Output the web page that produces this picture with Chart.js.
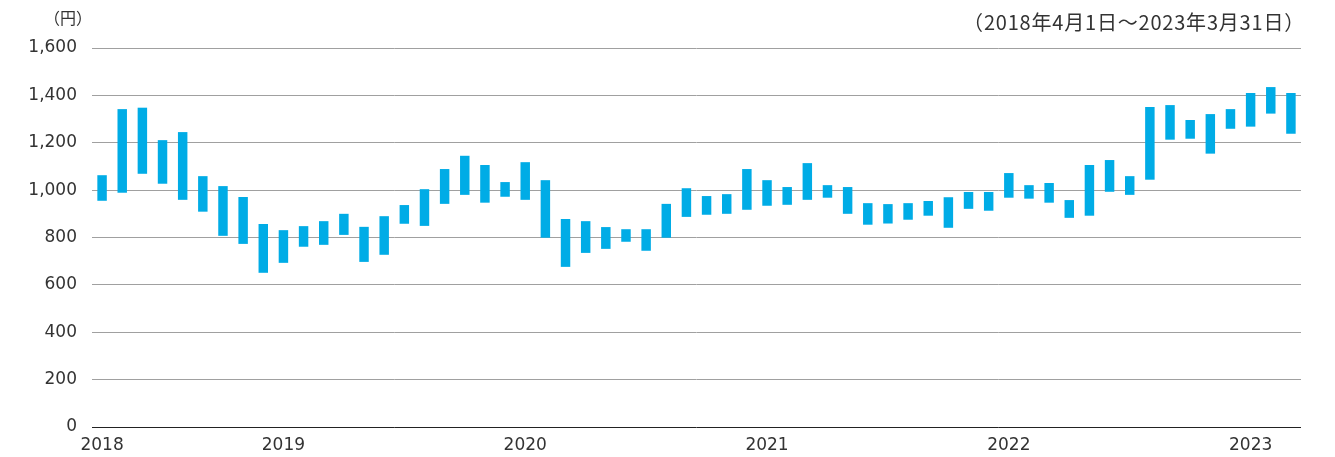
<!DOCTYPE html>
<html lang="ja">
<head>
<meta charset="utf-8">
<script src="https://cdn.jsdelivr.net/npm/chart.js@4"></script>
<style>
  html, body { margin: 0; padding: 0; background: #fff; }
  #wrap { position: relative; width: 1335px; height: 457px; font-family: "Noto Sans CJK JP", "Noto Sans", sans-serif; color: #333; }
  #unit { position: absolute; left: 44px; top: 9px; font-size: 16px; line-height: 1; }
  #period { position: absolute; right: 30px; top: 12px; font-size: 20px; line-height: 1; letter-spacing: 0.8px; }
</style>
</head>
<body>
<div id="wrap">
  <canvas id="price-range-chart" width="1335" height="457"></canvas>
  <div id="unit">（円）</div>
  <div id="period">（2018年4月1日～2023年3月31日）</div>
</div>
<script>
// 月次 高値・安値（2018年4月～2023年3月）
const months = [
    '2018-04', '2018-05', '2018-06', '2018-07', '2018-08', '2018-09', '2018-10', '2018-11', '2018-12',
    '2019-01', '2019-02', '2019-03', '2019-04', '2019-05', '2019-06', '2019-07', '2019-08', '2019-09', '2019-10', '2019-11', '2019-12',
    '2020-01', '2020-02', '2020-03', '2020-04', '2020-05', '2020-06', '2020-07', '2020-08', '2020-09', '2020-10', '2020-11', '2020-12',
    '2021-01', '2021-02', '2021-03', '2021-04', '2021-05', '2021-06', '2021-07', '2021-08', '2021-09', '2021-10', '2021-11', '2021-12',
    '2022-01', '2022-02', '2022-03', '2022-04', '2022-05', '2022-06', '2022-07', '2022-08', '2022-09', '2022-10', '2022-11', '2022-12',
    '2023-01', '2023-02', '2023-03'
];
const highs = [
    1063, 1342, 1348, 1211, 1245, 1059, 1017, 971, 857,
    831, 848, 869, 900, 845, 890, 937, 1004, 1089, 1145, 1106, 1034,
    1118, 1042, 878, 869, 844, 835, 835, 942, 1008, 975, 983, 1089,
    1042, 1013, 1114, 1021, 1013, 945, 941, 945, 954, 970, 992, 992,
    1072, 1021, 1030, 958, 1106, 1127, 1059, 1351, 1359, 1296, 1321, 1342,
    1410, 1435, 1410
];
const lows = [
    955, 989, 1069, 1027, 959, 909, 807, 773, 651,
    693, 761, 769, 811, 697, 727, 858, 849, 942, 980, 947, 972,
    959, 799, 676, 735, 752, 782, 744, 799, 887, 896, 900, 917,
    934, 938, 959, 968, 900, 854, 859, 875, 892, 841, 921, 913,
    968, 964, 947, 883, 892, 993, 980, 1044, 1213, 1217, 1154, 1259,
    1268, 1323, 1238
];
const yTicks = [0, 200, 400, 600, 800, 1000, 1200, 1400, 1600];

const barColor = '#00ace6';
const tickFont = { family: '"DejaVu Sans", sans-serif', size: 17 };

const ranges = months.map((m, i) => [lows[i], highs[i]]);

new Chart(document.getElementById('price-range-chart'), {
    type: 'bar',
    data: {
        labels: months,
        datasets: [{
            label: '株価レンジ',
            data: ranges,
            backgroundColor: barColor,
            borderWidth: 0,
            barPercentage: 1,
            categoryPercentage: 0.47
        }]
    },
    options: {
        responsive: false,
        animation: false,
        layout: { padding: { top: 48, right: 34, left: 0, bottom: 0 } },
        plugins: {
            legend: { display: false },
            tooltip: { enabled: false }
        },
        scales: {
            x: {
                grid: { display: false },
                border: { display: false },
                ticks: {
                    autoSkip: false,
                    maxRotation: 0,
                    padding: 0,
                    color: '#333',
                    font: tickFont,
                    callback: function (value, index) {
                        const m = months[index];
                        if (index === 0 || m.endsWith('-01')) return m.slice(0, 4);
                        return '';
                    }
                },
                afterFit: scale => { scale.height = 30; }
            },
            y: {
                min: 0,
                max: 1600,
                afterBuildTicks: scale => { scale.ticks = yTicks.map(v => ({ value: v })); },
                grid: {
                    drawTicks: false,
                    color: ctx => ctx.tick && ctx.tick.value === 0 ? '#222' : '#a0a0a0',
                    lineWidth: 1
                },
                border: { display: false },
                ticks: {
                    padding: 15,
                    color: '#333',
                    font: tickFont,
                    callback: value => value.toLocaleString('en-US')
                },
                afterFit: scale => { scale.width = 92; }
            }
        }
    }
});
</script>
</body>
</html>
